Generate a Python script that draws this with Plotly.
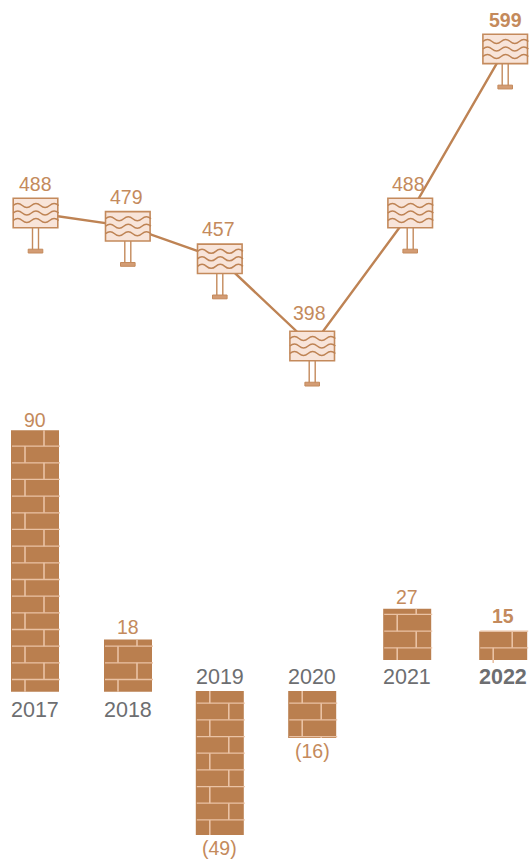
import plotly.graph_objects as go

# --- data -------------------------------------------------------------
years = [2017, 2018, 2019, 2020, 2021, 2022]
line_values = [488, 479, 457, 398, 488, 599]
bar_values = [90, 18, -49, -16, 27, 15]

# --- styling ----------------------------------------------------------
W, H = 530, 859
BRICK = "#BA7F4F"
MORTAR = "#EAC2A4"
INK = "#BE8354"
LABEL = "#C48A5C"
GREY = "#6D6E71"
PANEL = "#F8E4D9"
FONT = "'Liberation Sans', Arial, sans-serif"

PX_PER_YEAR = 92.4
X0_PX = 35
BAR_W_PX = 48
ROW_PX = 16.67
FIRST_ROW_PX = 12.2
JOINTS_PX = (14, 33)

# each group of bars sits on its own value axis: (baseline px, px per unit)
bar_axes = {"y2": (691.7, 2.905), "y3": (691, 2.94), "y4": (660, 1.9)}
bar_axis_of = ["y2", "y2", "y3", "y3", "y4", "y4"]
bar_nudge_px = [0, 0.6, 0, 0, 2.6, 6.2]
sign_nudge_px = [0.5, 0.4, 0, 0, 5.6, 8.2]
joint_overhang_px = [0, 0, 0, 0, 0, 3]

LINE_Y_PX, LINE_PX_PER_UNIT, LINE_REF = 213, 1.478, 488

value_shift = [(-0.5, 29), (-1, 29.5), (-1, 30), (-3, 33), (-2, 29), (0, 28.5)]
bar_label_shift = [10, 12, -13, -13, 12, 16]
year_label_y = [709.5, 709.5, 677, 677, 677, 677]


def xdata(px):
    return 2017 + (px - X0_PX) / PX_PER_YEAR


def axis_range(base, scale):
    return [-(H - base) / scale, base / scale]


bar_x = [y + n / PX_PER_YEAR for y, n in zip(years, bar_nudge_px)]
sign_x = [y + n / PX_PER_YEAR for y, n in zip(years, sign_nudge_px)]
bar_width = BAR_W_PX / PX_PER_YEAR

fig = go.Figure()

# connecting line
fig.add_trace(go.Scatter(
    x=sign_x, y=line_values, mode="lines", yaxis="y",
    line=dict(color=INK, width=2.4), hoverinfo="skip", showlegend=False,
))

# bars, one trace per value axis
for axis in bar_axes:
    idx = [i for i, a in enumerate(bar_axis_of) if a == axis]
    fig.add_trace(go.Bar(
        x=[bar_x[i] for i in idx], y=[bar_values[i] for i in idx],
        width=bar_width, yaxis=axis, marker=dict(color=BRICK, line=dict(width=0)),
        showlegend=False,
    ))


def mortar(i):
    """Brick courses for one bar, built outward from its baseline."""
    axis = bar_axis_of[i]
    scale = bar_axes[axis][1]
    value = bar_values[i]
    direction = 1 if value > 0 else -1
    height_px = abs(value) * scale
    left = bar_x[i] - bar_width / 2
    to_val = lambda px: direction * px / scale
    xs, ys = [], []
    xv, yv = [], []
    row, start = 0, 0.0
    while start < height_px:
        end = FIRST_ROW_PX if row == 0 else start + ROW_PX
        if end <= height_px + 0.8:
            xs += [left + 1 / PX_PER_YEAR, left + (BAR_W_PX + 1) / PX_PER_YEAR, None]
            ys += [to_val(end), to_val(end), None]
        joint = left + JOINTS_PX[row % 2] / PX_PER_YEAR
        low = -joint_overhang_px[i] if row == 0 else start
        xv += [joint, joint, None]
        yv += [to_val(low), to_val(min(end, height_px)), None]
        start = end
        row += 1
    for x_, y_, w in ((xs, ys, 1.3), (xv, yv, 1.6)):
        fig.add_trace(go.Scatter(
            x=x_, y=y_, mode="lines", yaxis=axis, hoverinfo="skip",
            line=dict(color=MORTAR, width=w), showlegend=False,
        ))


for i in range(len(years)):
    mortar(i)

# --- billboard markers, anchored on the line values ---------------------
BOX_W, BOX_H = 22.3, 14.7


def wave(y):
    step = 4.55
    d = f"M {-BOX_W} {y} Q {-BOX_W + step} {y + 4} {-BOX_W + 2 * step} {y}"
    x = -BOX_W + 2 * step
    for k in range(4):
        x += 2 * step
        d += f" T {x:.2f} {y}"
    return d


def anchored(xa, ya, path, **style):
    return dict(type="path", xref="x", yref="y", xsizemode="pixel", ysizemode="pixel",
                xanchor=xa, yanchor=ya, path=path, layer="above", **style)


shapes = []
for xa, ya in zip(sign_x, line_values):
    shapes.append(anchored(xa, ya,
                           f"M -3 {-BOX_H} L -3 -37 M 3 {-BOX_H} L 3 -37",
                           line=dict(color=LABEL, width=1.4)))
    shapes.append(anchored(xa, ya, "M -7.3 -36.2 L 7.3 -36.2 L 7.3 -40 L -7.3 -40 Z",
                           line=dict(color=LABEL, width=1), fillcolor="#D39C74"))
    shapes.append(anchored(xa, ya,
                           f"M {-BOX_W} {-BOX_H} L {BOX_W} {-BOX_H} L {BOX_W} {BOX_H} L {-BOX_W} {BOX_H} Z",
                           line=dict(color=LABEL, width=1.6), fillcolor=PANEL))
    for off in (7.5, 0, -7.5):
        shapes.append(anchored(xa, ya, wave(off), line=dict(color=INK, width=1.5)))

# --- text ---------------------------------------------------------------
annotations = []
for i, (xa, v) in enumerate(zip(sign_x, line_values)):
    dx, dy = value_shift[i]
    bold = i == len(years) - 1
    annotations.append(dict(
        x=xa, y=v, xref="x", yref="y", xshift=dx, yshift=dy, showarrow=False,
        text=f"<b>{v}</b>" if bold else str(v), yanchor="middle",
        font=dict(family=FONT, size=19.5, color=LABEL),
    ))
for i, v in enumerate(bar_values):
    txt = str(v) if v > 0 else f"({abs(v)})"
    if i == len(years) - 1:
        txt = f"<b>{txt}</b>"
    annotations.append(dict(
        x=bar_x[i], y=v, xref="x", yref=bar_axis_of[i], yshift=bar_label_shift[i],
        showarrow=False, text=txt, yanchor="middle",
        font=dict(family=FONT, size=19.5, color=LABEL),
    ))
    ylab = str(years[i])
    if i == len(years) - 1:
        ylab = f"<b>{ylab}</b>"
    annotations.append(dict(
        x=bar_x[i], y=1 - year_label_y[i] / H, xref="x", yref="paper",
        showarrow=False, text=ylab, yanchor="middle",
        font=dict(family=FONT, size=21.5, color=GREY),
    ))

hidden = dict(visible=False, fixedrange=True)
line_range = [LINE_REF - (H - LINE_Y_PX) / LINE_PX_PER_UNIT, LINE_REF + LINE_Y_PX / LINE_PX_PER_UNIT]

fig.update_layout(
    width=W, height=H, margin=dict(l=0, r=0, t=0, b=0),
    paper_bgcolor="white", plot_bgcolor="white", barmode="overlay",
    showlegend=False, shapes=shapes, annotations=annotations,
    xaxis=dict(range=[xdata(0), xdata(W)], domain=[0, 1], **hidden),
    yaxis=dict(range=line_range, domain=[0, 1], **hidden),
    yaxis2=dict(range=axis_range(*bar_axes["y2"]), overlaying="y", **hidden),
    yaxis3=dict(range=axis_range(*bar_axes["y3"]), overlaying="y", **hidden),
    yaxis4=dict(range=axis_range(*bar_axes["y4"]), overlaying="y", **hidden),
)

fig.write_html("out.html")
